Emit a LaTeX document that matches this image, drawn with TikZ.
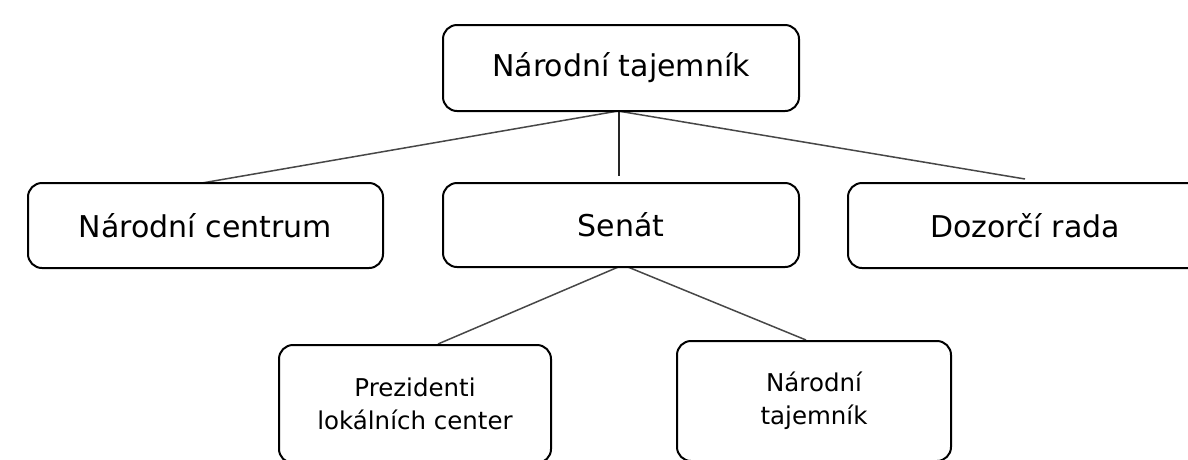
\documentclass[tikz,border=0pt]{standalone}
\usepackage{fontspec}
\setmainfont{DejaVu Sans}
\begin{document}
\begin{tikzpicture}[x=1pt,y=-1pt,
  box/.style={draw=black,line width=2pt,rounded corners=14pt,inner sep=0pt,align=center,fill=white},
  bigtext/.style={font=\fontsize{30}{36}\selectfont},
  smalltext/.style={font=\fontsize{24.5}{33}\selectfont},
  link/.style={draw=black!72,line width=1.5pt}]
\useasboundingbox (0,0) rectangle (1188,459);
% connectors (drawn first, under boxes)
\coordinate (t0) at (618,111);
\coordinate (tv) at (619,111);
\coordinate (eL) at (202,183);
\coordinate (eM) at (619,176);
\coordinate (eR) at (1025,179);
\coordinate (s0) at (623,265);
\coordinate (bL) at (438,344);
\coordinate (bR) at (806,340);
\draw[link] (t0) -- (eL);
\draw[link,draw=black!85] (tv) -- (eM);
\draw[link] (t0) -- (eR);
\draw[link] (s0) -- (bL);
\draw[link] (s0) -- (bR);
% boxes
\node[box,bigtext,minimum width=356pt,minimum height=86pt] (top) at (621,68) {Národní tajemník};
\node[box,bigtext,minimum width=355pt,minimum height=85pt] (nc) at (205.5,225.5) {Národní centrum};
\node[box,bigtext,minimum width=356pt,minimum height=84pt] (sen) at (621,225) {Senát};
\node[box,bigtext,minimum width=354pt,minimum height=85pt] (dr) at (1025,225.5) {Dozorčí rada};
\node[box,smalltext,minimum width=272pt,minimum height=118pt] (pl) at (415,404) {Prezidenti\\lokálních center};
\node[box,smalltext,minimum width=274pt,minimum height=120pt] (nt) at (814,401) {Národní\\tajemník};
\end{tikzpicture}
\end{document}
